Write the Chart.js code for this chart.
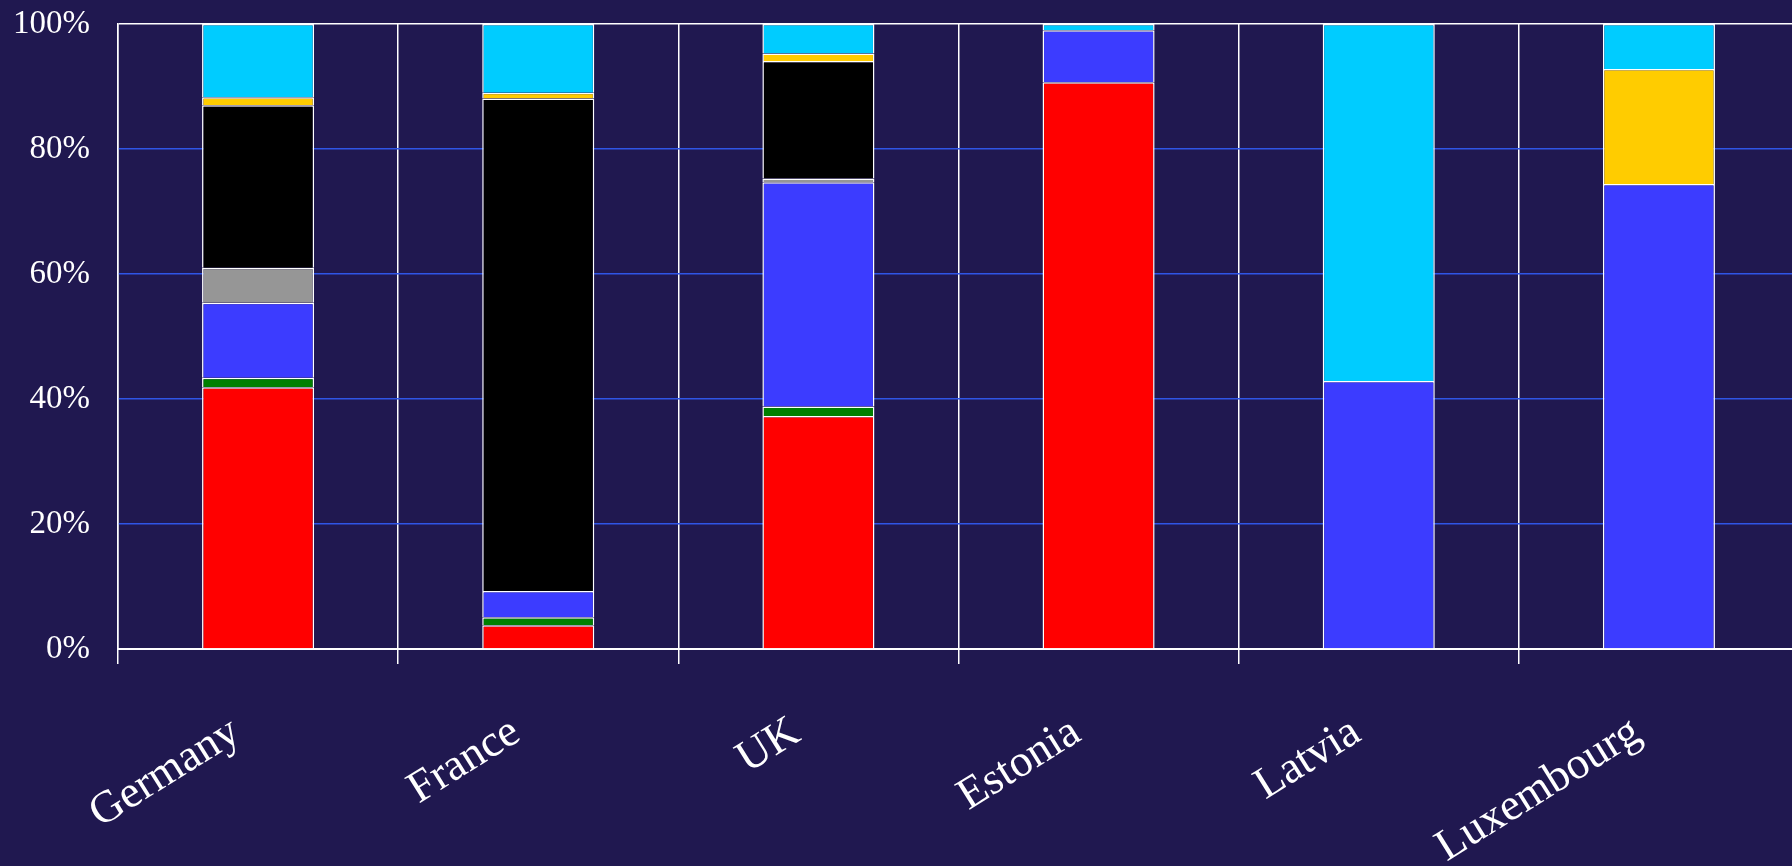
<!DOCTYPE html>
<html>
<head>
<meta charset="utf-8">
<script src="https://cdn.jsdelivr.net/npm/chart.js@4"></script>
<style>
  html, body { margin: 0; padding: 0; background: #201850; overflow: hidden; }
  #wrap { width: 1800px; height: 866px; }
</style>
</head>
<body>
<div id="wrap"><canvas id="myChart"></canvas></div>
<script>
const countries = ['Germany', 'France', 'UK', 'Estonia', 'Latvia', 'Luxembourg'];

// shares in %, bottom to top of each stack
const coal      = [41.9, 3.8, 37.3, 90.7, 0, 0];
const oil       = [1.5, 1.3, 1.5, 0, 0, 0];
const gas       = [12.0, 4.2, 35.9, 8.3, 42.9, 74.4];
const other     = [5.6, 0, 0.6, 0, 0, 0];
const nuclear   = [26.0, 78.8, 18.8, 0, 0, 0];
const renewable = [1.3, 0.9, 1.2, 0, 0, 18.4];
const hydro     = [11.7, 11.0, 4.7, 1.0, 57.1, 7.2];

const yTicks = [0, 20, 40, 60, 80, 100];

const series = [
    { label: 'Coal', data: coal, color: '#ff0000' },
    { label: 'Oil', data: oil, color: '#008000' },
    { label: 'Gas', data: gas, color: '#3c3cff' },
    { label: 'Other', data: other, color: '#969696' },
    { label: 'Nuclear', data: nuclear, color: '#000000' },
    { label: 'Other renewables', data: renewable, color: '#ffcc00' },
    { label: 'Hydro', data: hydro, color: '#00ccff' },
];

const serif = '"Liberation Serif", "Times New Roman", serif';

new Chart(document.getElementById('myChart').getContext('2d'), {
    type: 'bar',
    data: {
        labels: countries,
        datasets: series.map(s => ({
            label: s.label,
            data: s.data,
            backgroundColor: s.color,
            borderColor: '#ffffff',
            borderWidth: 1.5,
            categoryPercentage: 0.4,
            barPercentage: 1,
        })),
    },
    options: {
        responsive: true,
        maintainAspectRatio: false,
        animation: false,
        layout: {
            padding: { top: 24, left: 0, right: 1, bottom: 0 }
        },
        plugins: {
            legend: { display: false },
            tooltip: { enabled: false },
        },
        scales: {
            x: {
                stacked: true,
                offset: true,
                grid: {
                    offset: true,
                    color: '#ffffff',
                    lineWidth: 1.5,
                    tickLength: 15,
                },
                border: { color: '#ffffff', width: 2 },
                ticks: {
                    color: '#ffffff',
                    font: { family: serif, size: 45 },
                    maxRotation: 32,
                    minRotation: 32,
                    padding: 42,
                    labelOffset: -22,
                    autoSkip: false,
                },
                afterFit: s => {
                    s.height = 217;
                    s.paddingLeft = 0;
                    s.paddingRight = 0;
                },
            },
            y: {
                stacked: true,
                min: 0,
                max: 100,
                afterBuildTicks: axis => { axis.ticks = yTicks.map(v => ({ value: v })); },
                afterFit: s => {
                    s.width = 118;
                    s.paddingTop = 0;
                    s.paddingBottom = 0;
                },
                grid: {
                    drawTicks: false,
                    lineWidth: 1.5,
                    color: ctx => (ctx.tick && (ctx.tick.value === 100 || ctx.tick.value === 0)) ? '#ffffff' : '#2f55e6',
                },
                border: { color: '#ffffff', width: 1.5 },
                ticks: {
                    color: '#ffffff',
                    font: { family: serif, size: 33 },
                    padding: 28,
                    callback: v => v + '%',
                },
            },
        },
    },
});
</script>
</body>
</html>
